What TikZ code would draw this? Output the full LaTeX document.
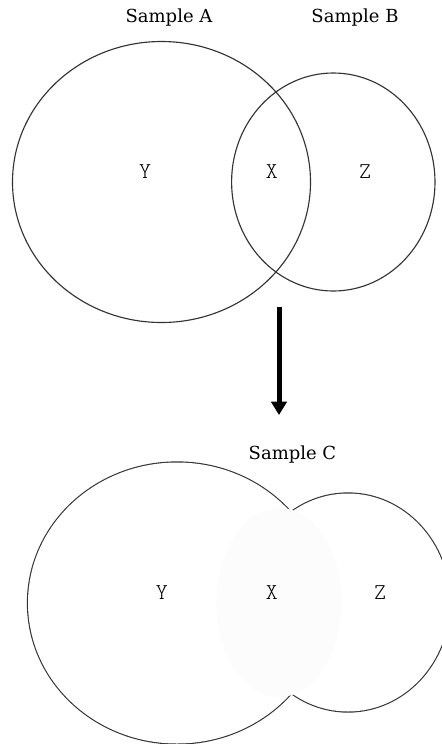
\documentclass[tikz,border=0pt]{standalone}
\usepackage{fontspec}
\newfontfamily\samplefont{DejaVu Serif}
\newfontfamily\lettfont{Latin Modern Mono Light}
\usetikzlibrary{arrows.meta,shapes.geometric}
\begin{document}
\begin{tikzpicture}[x=0.75pt,y=-0.75pt,
  outline/.style={draw=black!80,line width=0.85pt},
  title/.style={font=\samplefont\fontsize{13.5}{16}\selectfont,inner sep=0pt,anchor=base},
  letter/.style={font=\lettfont\fontsize{17}{19}\selectfont,inner sep=0pt,anchor=base},
  bigarrow/.style={line width=3.75pt,-{Triangle[width=11.5pt,length=10pt]}}]
\useasboundingbox (0,0) rectangle (442,744);
% top diagram
\draw[outline] (161.5,182) ellipse [x radius=149, y radius=140.5];
\draw[outline] (333.3,182) ellipse [x radius=101.7, y radius=109];
\node[title] (sa) at (169,22) {Sample A};
\node[title] (sb) at (355,22) {Sample B};
\node[letter] (ya) at (145,178.3) {Y};
\node[letter] (xa) at (271.7,178.3) {X};
\node[letter] (za) at (365,178.3) {Z};
% arrow
\coordinate (arrowstart) at (279,307);
\coordinate (arrowend) at (279,415);
\draw[bigarrow] (arrowstart) -- (arrowend);
% bottom merged diagram
\path[draw=black!80,line width=1.7pt]
  (177,603) ellipse [x radius=149, y radius=140.5]
  (348,602.5) ellipse [x radius=101.7, y radius=109];
\fill[white] (177,603) ellipse [x radius=149, y radius=140.5]
  (348,602.5) ellipse [x radius=101.7, y radius=109];
\fill[black!1] (279,602.5) ellipse [x radius=62.5, y radius=94.5];
\node[title] (sc) at (292.5,459) {Sample C};
\node[letter] (yc) at (161.7,599.3) {Y};
\node[letter] (xc) at (271.7,599.3) {X};
\node[letter] (zc) at (380,599.3) {Z};
\end{tikzpicture}
\end{document}
